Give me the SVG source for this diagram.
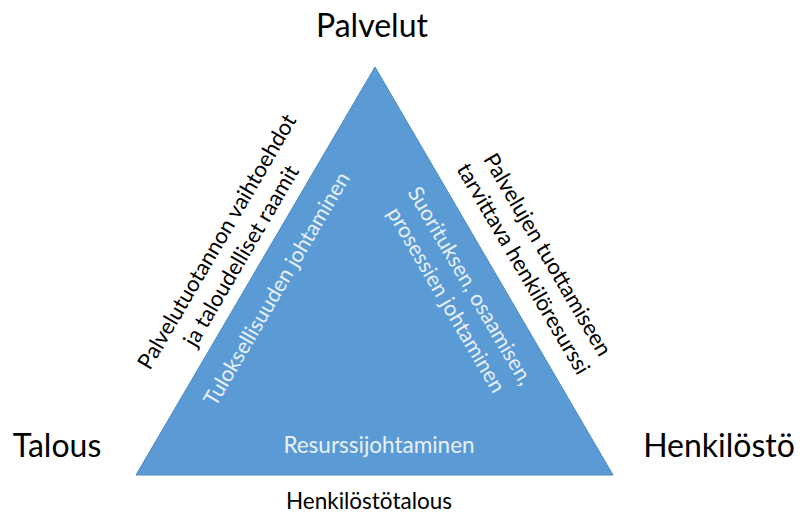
<svg xmlns="http://www.w3.org/2000/svg" width="800" height="515" viewBox="0 0 800 515">
<style>
.t{font-family:Lato,"Open Sans","Liberation Sans",sans-serif;fill:#000}
.w{font-family:Lato,"Open Sans","Liberation Sans",sans-serif;fill:#e8f0fa}
.big{font-size:32px}
.mid{font-size:22px}
.in{font-size:21.5px}
.bot{font-size:22.5px}
</style>
<rect width="800" height="515" fill="#fff"/>
<g id="triangle">
<polygon points="375,67 136,475 613,475" fill="#5b9bd5" stroke="#4a89c4" stroke-width="1"/>
</g>
<g id="palvelut"><text class="t big" x="372" y="37" text-anchor="middle">Palvelut</text></g>
<g id="talous"><text class="t big" x="57" y="457" text-anchor="middle">Talous</text></g>
<g id="henkilosto"><text class="t big" x="719" y="457" text-anchor="middle">Henkilöstö</text></g>
<g id="henkilostotalous"><text class="t bot" x="369" y="509" text-anchor="middle">Henkilöstötalous</text></g>
<g id="resurssi"><text class="w bot" x="379" y="453" text-anchor="middle">Resurssijohtaminen</text></g>
<g id="left-outer" transform="translate(229.5,249) rotate(-59.6)">
<text class="t mid" text-anchor="middle"><tspan x="0" y="-7">Palvelutuotannon vaihtoehdot</tspan><tspan x="0" y="21">ja taloudelliset raamit</tspan></text>
</g>
<g id="left-inner" transform="translate(277,289) rotate(-59.6)">
<text class="w in" x="0" y="7" text-anchor="middle">Tuloksellisuuden johtaminen</text>
</g>
<g id="right-outer" transform="translate(535,262) rotate(59.6)">
<text class="t mid" text-anchor="middle"><tspan x="0" y="-7">Palvelujen tuottamiseen</tspan><tspan x="0" y="21">tarvittava henkilöresurssi</tspan></text>
</g>
<g id="right-inner" transform="translate(458,293) rotate(59.6)">
<text class="w in" text-anchor="middle"><tspan x="0" y="-7">Suorituksen, osaamisen,</tspan><tspan x="0" y="21">prosessien johtaminen</tspan></text>
</g>
<g id="connectors"></g>
</svg>
